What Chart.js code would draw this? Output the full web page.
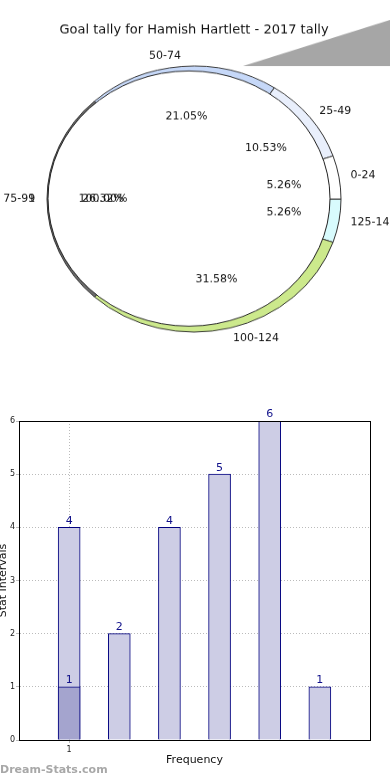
<!DOCTYPE html>
<html>
<head>
<meta charset="utf-8">
<script src="https://cdn.jsdelivr.net/npm/chart.js@4.4.0/dist/chart.umd.min.js"></script>
<style>
html,body{margin:0;padding:0;background:#fff;overflow:hidden;width:390px;height:780px}
#pieBox{position:absolute;left:0;top:0;width:390px;height:430px;transform:scaleY(0.9048);transform-origin:0 0}
#barBox{position:absolute;left:0;top:390px;width:390px;height:390px}
</style>
</head>
<body>
<div id="pieBox"><canvas id="pieChart" width="390" height="430"></canvas></div>
<div id="barBox"><canvas id="barChart" width="390" height="390"></canvas></div>
<script>
// ---- pie data ----
const pieTitle = "Goal tally for Hamish Hartlett - 2017 tally";
const pieCategories = ["0-24", "25-49", "50-74", "75-99", "100-124", "125-149"];
const pieCounts = [1, 2, 4, 5, 6, 1];
const pieColors = ["#ffffff", "#e9effc", "#c6d8f8", "#6c6c6c", "#cce98c", "#d8fbfd"];
// the source also draws a second series: one slice "1" holding everything
const extraCategories = ["1"];
const extraCounts = [1];

// ---- bar data ----
const barPositions = [1, 2, 3, 4, 5, 6];
const barValues = [4, 2, 4, 5, 6, 1];
const overlayPositions = [1];
const overlayValues = [1];
const yTickValues = [0, 1, 2, 3, 4, 5, 6];
const xTickValues = [1];

Chart.defaults.font.family = "'DejaVu Sans', sans-serif";

const S = 0.9048; // vertical squash of the pie box

function squashText(c, txt, x, y, align, font) {
  c.save();
  c.translate(x, y);
  c.scale(1, 1 / S);
  c.font = font;
  c.textAlign = align;
  c.textBaseline = "middle";
  c.fillStyle = "#111";
  c.fillText(txt, 0, 0);
  c.restore();
}

const pieDeco = {
  id: "pieDeco",
  beforeDraw(chart) {
    const c = chart.ctx;
    c.save();
    c.fillStyle = "#a6a6a6";
    c.beginPath();
    c.moveTo(243, 66 / S);
    c.lineTo(390, 20 / S);
    c.lineTo(390, 66 / S);
    c.closePath();
    c.fill();
    c.restore();
  },
  afterDatasetsDraw(chart) {
    const c = chart.ctx;
    const a = chart.getDatasetMeta(0).data[0];
    // top face of the 3d pie
    c.save();
    c.beginPath();
    c.arc(a.x - 5, a.y - 0.6, a.outerRadius - 6, 0, Math.PI * 2);
    c.fillStyle = "#fff";
    c.fill();
    c.strokeStyle = "#222";
    c.lineWidth = 1;
    c.stroke();
    c.restore();
  },
  afterDraw(chart) {
    const c = chart.ctx;
    const ds = chart.data.datasets[0].data;
    const total = ds.reduce((p, v) => p + v, 0);
    const font = "11px 'DejaVu Sans'";
    const put = (name, pct, mid, a) => {
      const cos = Math.cos(mid), sin = Math.sin(mid);
      const lx = a.x + cos * a.outerRadius * 1.08;
      const ly = a.y + sin * a.outerRadius * 1.08;
      squashText(c, name, lx, ly, cos >= 0 ? "left" : "right", font);
      squashText(c, pct, a.x + cos * a.outerRadius * 0.62, a.y + sin * a.outerRadius * 0.62, "center", font);
    };
    chart.getDatasetMeta(0).data.forEach((a, i) => {
      const mid = (a.startAngle + a.endAngle) / 2;
      put(chart.data.labels[i], (ds[i] / total * 100).toFixed(2) + "%", mid, a);
    });
    const a0 = chart.getDatasetMeta(0).data[0];
    const extraTotal = extraCounts.reduce((p, v) => p + v, 0);
    extraCategories.forEach((name, i) => {
      put(name, (extraCounts[i] / extraTotal * 100).toFixed(2) + "%", Math.PI, a0);
    });
    squashText(c, pieTitle, 194, 30 / S, "center", "13px 'DejaVu Sans'");
  }
};

new Chart(document.getElementById("pieChart"), {
  type: "pie",
  data: {
    labels: pieCategories.slice().reverse(),
    datasets: [{
      data: pieCounts.slice().reverse(),
      backgroundColor: pieColors.slice().reverse(),
      borderColor: "#333",
      borderWidth: 1
    }]
  },
  options: {
    responsive: false,
    animation: false,
    rotation: 90,
    radius: 147,
    layout: { padding: { left: 0, right: 2, top: 60, bottom: 50 } },
    plugins: { legend: { display: false }, tooltip: { enabled: false } }
  },
  plugins: [pieDeco]
});

const barDeco = {
  id: "barDeco",
  afterDatasetsDraw(chart) {
    const c = chart.ctx;
    const ar = chart.chartArea;
    c.save();
    c.strokeStyle = "#000";
    c.lineWidth = 1;
    c.strokeRect(Math.round(ar.left) + 0.5, Math.round(ar.top) + 0.5, Math.round(ar.right - ar.left), Math.round(ar.bottom - ar.top));
    c.font = "11px 'DejaVu Sans'";
    c.fillStyle = "#10108a";
    c.textAlign = "center";
    c.textBaseline = "bottom";
    chart.data.datasets.forEach((d, di) => {
      chart.getDatasetMeta(di).data.forEach((el, i) => {
        c.fillText(String(d.data[i].y), el.x, el.y - 1);
      });
    });
    c.font = "bold 11px 'DejaVu Sans'";
    c.fillStyle = "#a8a8a8";
    c.textAlign = "left";
    c.textBaseline = "middle";
    c.fillText("Dream-Stats.com", 0, 380);
    c.restore();
  }
};

new Chart(document.getElementById("barChart"), {
  type: "bar",
  data: {
    datasets: [
      {
        data: overlayPositions.map((x, i) => ({ x: x, y: overlayValues[i] })),
        backgroundColor: "#a4a4ce",
        borderColor: "#00007f",
        borderWidth: 1,
        barThickness: 22,
        grouped: false
      },
      {
        data: barPositions.map((x, i) => ({ x: x, y: barValues[i] })),
        backgroundColor: "#cdcde5",
        borderColor: "#00007f",
        borderWidth: 1,
        barThickness: 22,
        grouped: false
      }
    ]
  },
  options: {
    responsive: false,
    animation: false,
    layout: { padding: { top: 31, right: 20, left: 0, bottom: 10 } },
    plugins: { legend: { display: false }, tooltip: { enabled: false } },
    scales: {
      x: {
        type: "linear",
        min: 0,
        max: 7,
        offset: false,
        afterFit(s) { s.height = 30; },
        afterBuildTicks(s) { s.ticks = xTickValues.map(v => ({ value: v })); },
        ticks: { font: { size: 8 }, color: "#222", padding: 2, autoSkip: false, maxRotation: 0 },
        grid: { color: "#bbb", tickLength: 3, offset: false },
        border: { color: "#000", dash: [1, 2] },
        title: { display: true, text: "Frequency", font: { size: 11 }, color: "#111", padding: { top: 0, bottom: 3 } }
      },
      y: {
        min: 0,
        max: 6,
        afterFit(s) { s.width = 19; },
        afterBuildTicks(s) { s.ticks = yTickValues.map(v => ({ value: v })); },
        ticks: { font: { size: 8 }, color: "#222", padding: 1 },
        grid: { color: "#bbb", tickLength: 3 },
        border: { color: "#000", dash: [1, 2] },
        title: { display: true, text: "Stat Intervals", font: { size: 11 }, color: "#111", padding: { top: -3, bottom: 0 } }
      }
    }
  },
  plugins: [barDeco]
});
</script>
</body>
</html>
